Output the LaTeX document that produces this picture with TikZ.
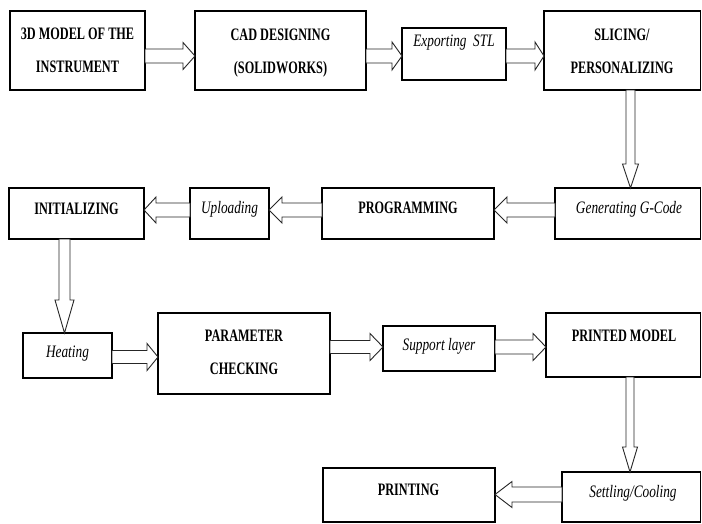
\documentclass[tikz,border=0pt]{standalone}
\usepackage{fontspec}
\setmainfont{Liberation Serif}
\newfontfamily\bfnt{Liberation Serif}[FakeStretch=0.70]
\newfontfamily\itfnt{Liberation Serif}[FakeStretch=0.76]
\usetikzlibrary{calc,fit}
\tikzset{
  box/.style={draw, line width=1.1pt, inner sep=0pt, outer sep=0pt},
  bt/.style={inner sep=0pt, font=\bfnt\bfseries\fontsize{17.5}{21}\selectfont},
  btt/.style={inner sep=0pt, align=center, font=\bfnt\bfseries\fontsize{17.5}{33}\selectfont},
  it/.style={inner sep=0pt, font=\itfnt\itshape\fontsize{17.5}{21}\selectfont},
  blk/.style={draw=black!85, line width=0.9pt, fill=white, line join=miter}
}
% right arrow: from, to, y, shaft half, head half, head length
\newcommand\arrR[6]{%
  \pgfmathsetmacro\ya{#3-#4}\pgfmathsetmacro\yb{#3+#4}%
  \pgfmathsetmacro\yc{#3-#5}\pgfmathsetmacro\yd{#3+#5}%
  \draw[blk] (#1.east |- 0,\ya) -- ($(#2.west |- 0,\ya)+(-#6,0)$)
    -- ($(#2.west |- 0,\yc)+(-#6,0)$) -- (#2.west |- 0,#3)
    -- ($(#2.west |- 0,\yd)+(-#6,0)$) -- ($(#2.west |- 0,\yb)+(-#6,0)$)
    -- (#1.east |- 0,\yb) -- cycle;}
% left arrow
\newcommand\arrL[6]{%
  \pgfmathsetmacro\ya{#3-#4}\pgfmathsetmacro\yb{#3+#4}%
  \pgfmathsetmacro\yc{#3-#5}\pgfmathsetmacro\yd{#3+#5}%
  \draw[blk] (#1.west |- 0,\ya) -- ($(#2.east |- 0,\ya)+(#6,0)$)
    -- ($(#2.east |- 0,\yc)+(#6,0)$) -- (#2.east |- 0,#3)
    -- ($(#2.east |- 0,\yd)+(#6,0)$) -- ($(#2.east |- 0,\yb)+(#6,0)$)
    -- (#1.west |- 0,\yb) -- cycle;}
% down arrow: from, to, x, shaft half, head half, head length
\newcommand\arrD[6]{%
  \pgfmathsetmacro\xa{#3-#4}\pgfmathsetmacro\xb{#3+#4}%
  \pgfmathsetmacro\xc{#3-#5}\pgfmathsetmacro\xd{#3+#5}%
  \draw[blk] (#1.south -| \xa,0) -- ($(#2.north -| \xa,0)+(0,-#6)$)
    -- ($(#2.north -| \xc,0)+(0,-#6)$) -- (#2.north -| #3,0)
    -- ($(#2.north -| \xd,0)+(0,-#6)$) -- ($(#2.north -| \xb,0)+(0,-#6)$)
    -- (#1.south -| \xb,0) -- cycle;}
\begin{document}
\begin{tikzpicture}[x=1pt,y=-1pt]
\useasboundingbox (0,0) rectangle (702,523);
\fill[white] (0,0) rectangle (702,523);
% boxes
\node[box, fit={(10,11) (145,90)}] (b1) {};
\node[box, fit={(195,11) (366,90)}] (b2) {};
\node[box, fit={(402,28) (506,80)}] (b3) {};
\node[box, fit={(544,11) (700.5,90)}] (b4) {};
\node[box, fit={(555,188) (700.5,239)}] (b5) {};
\node[box, fit={(322,188) (494,239)}] (b6) {};
\node[box, fit={(190,188) (269,239)}] (b7) {};
\node[box, fit={(9,188) (144,239)}] (b8) {};
\node[box, fit={(23,333) (112,378)}] (b9) {};
\node[box, fit={(158,313) (330,394)}] (b10) {};
\node[box, fit={(383,326) (495,371)}] (b11) {};
\node[box, fit={(546,313) (700.5,377)}] (b12) {};
\node[box, fit={(562,472) (700.5,522)}] (b13) {};
\node[box, fit={(323,468) (495,522)}] (b14) {};
% texts
\node[btt] (t1) at (77.5,50.7) {3D MODEL OF THE\\INSTRUMENT};
\node[btt] (t2) at (280.5,52.6) {CAD DESIGNING\\(SOLIDWORKS)};
\node[it, anchor=base] (t3) at (454,46) {Exporting~ STL};
\node[btt] (t4) at (622,51.1) {SLICING/\\PERSONALIZING};
\node[it, anchor=base] (t5) at (629,213) {Generating G-Code};
\node[bt, anchor=base] (t6) at (408,213.5) {PROGRAMMING};
\node[it, anchor=base] (t7) at (229.5,213) {Uploading};
\node[bt, anchor=base] (t8) at (76.5,214) {INITIALIZING};
\node[it, anchor=base] (t9) at (67.5,357) {Heating};
\node[btt] (t10) at (244,352.7) {PARAMETER\\CHECKING};
\node[it, anchor=base] (t11) at (439,350) {Support layer};
\node[bt, anchor=base] (t12) at (624,341) {PRINTED MODEL};
\node[it, anchor=base] (t13) at (633,497) {Settling/Cooling};
\node[bt, anchor=base] (t14) at (408.5,495) {PRINTING};
% arrows
\arrR{b1}{b2}{56}{7}{13.5}{12}
\arrR{b2}{b3}{56}{7}{14}{10}
\arrR{b3}{b4}{56}{7}{14}{9}
\arrD{b4}{b5}{630.5}{4.5}{8}{24}
\arrL{b5}{b6}{210}{7}{13}{13}
\arrL{b6}{b7}{210}{7}{13}{13}
\arrL{b7}{b8}{210}{7}{13}{12}
\arrD{b8}{b9}{64.5}{5.5}{9.5}{33}
\arrR{b9}{b10}{357}{6.5}{13.5}{11}
\arrR{b10}{b11}{347}{6.5}{13.5}{13}
\arrR{b11}{b12}{347}{7}{13.5}{13}
\arrD{b12}{b13}{630}{4}{7.5}{25}
\arrL{b13}{b14}{494.5}{7.5}{13}{17}
\end{tikzpicture}
\end{document}
